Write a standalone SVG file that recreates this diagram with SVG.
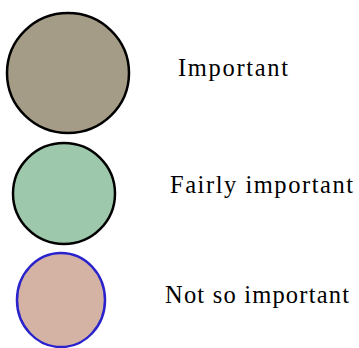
<svg xmlns="http://www.w3.org/2000/svg" width="359" height="348" viewBox="0 0 359 348">
<style>
.lbl{font-family:"Liberation Serif","Times New Roman",serif;font-size:24.5px;fill:#000}
.n{stroke-width:2.5}
</style>
<rect width="359" height="348" fill="#fff"/>
<g id="node-important">
<ellipse class="n" cx="68" cy="73" rx="61" ry="60" fill="#a59c87" stroke="#000"/>
<text class="lbl" x="178" y="76" textLength="110" lengthAdjust="spacing">Important</text>
</g>
<g id="node-fairly">
<ellipse class="n" cx="64" cy="193.5" rx="51" ry="50.5" fill="#9dc8ab" stroke="#000"/>
<text class="lbl" x="170" y="193" textLength="183" lengthAdjust="spacing">Fairly important</text>
</g>
<g id="node-notso">
<ellipse class="n" cx="61" cy="300" rx="44" ry="47" fill="#d4b3a5" stroke="#2a22cc"/>
<text class="lbl" x="165" y="303" textLength="184" lengthAdjust="spacing">Not so important</text>
</g>
<g id="connectors"></g>
</svg>
